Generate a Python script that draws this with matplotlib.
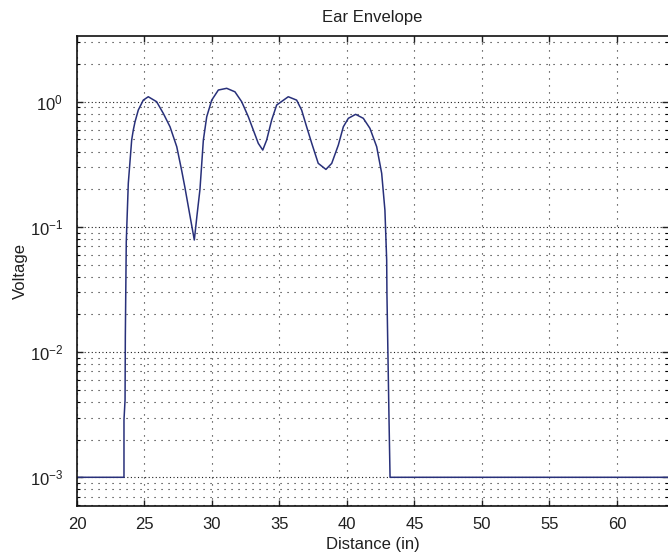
import matplotlib
matplotlib.use("Agg")
import matplotlib.pyplot as plt
from matplotlib.ticker import LogLocator, NullFormatter, LogFormatterSciNotation, MultipleLocator

plt.rcParams['font.family'] = ['Liberation Sans', 'DejaVu Sans']
plt.rcParams['mathtext.fontset'] = 'custom'
plt.rcParams['mathtext.rm'] = 'Liberation Sans'
plt.rcParams['mathtext.it'] = 'Liberation Sans'

title = "Ear Envelope"
xlabel = "Distance (in)"
ylabel = "Voltage"

distance = [20.0, 23.48, 23.48, 23.56, 23.58, 23.65, 23.80, 24.05, 24.17, 24.30,
            24.54, 24.91, 25.28, 25.90, 26.39, 26.89, 27.39, 27.76, 28.0, 28.3, 28.69,
            28.89, 29.11, 29.36, 29.61, 29.98, 30.47, 31.09, 31.70, 32.20, 32.69,
            33.06, 33.43, 33.76, 34.05, 34.42, 34.79, 35.65, 36.27, 36.64, 37.01,
            37.39, 37.87, 38.44, 38.87, 39.36, 39.73, 40.10, 40.64, 41.21, 41.70,
            42.20, 42.57, 42.81, 42.94, 42.96, 43.11, 43.19, 70.0]
voltage = [0.001, 0.001, 0.00287, 0.00414, 0.0133, 0.0762, 0.223, 0.494, 0.594, 0.692,
           0.858, 1.03, 1.096, 1.0, 0.808, 0.631, 0.437, 0.28, 0.205, 0.135, 0.0786,
           0.124, 0.2, 0.494, 0.759, 1.03, 1.24, 1.28, 1.20, 1.0, 0.759,
           0.594, 0.465, 0.411, 0.494, 0.714, 0.941, 1.096, 1.03, 0.858, 0.631,
           0.465, 0.322, 0.288, 0.322, 0.451, 0.631, 0.737, 0.793, 0.737, 0.613,
           0.437, 0.268, 0.136, 0.0544, 0.029, 0.00305, 0.001, 0.001]

xlim = (20, 63.78)
ylim = (5.93e-4, 3.35)

fig = plt.figure(figsize=(6.68, 5.57), dpi=100)
ax = fig.add_axes([77/668, 1 - 505.7/557, 1 - 77/668, (505.7 - 36)/557])

ax.plot(distance, voltage, color='#28307a', lw=1.1)
ax.set_yscale('log')
ax.set_xlim(*xlim)
ax.set_ylim(*ylim)

ax.xaxis.set_major_locator(MultipleLocator(5))
ax.yaxis.set_major_locator(LogLocator(base=10, numticks=20))
ax.yaxis.set_minor_locator(LogLocator(base=10, subs=range(2, 10), numticks=50))
ax.yaxis.set_minor_formatter(NullFormatter())
ax.yaxis.set_major_formatter(LogFormatterSciNotation())

ax.grid(True, which='major', axis='y', color='#202020', lw=0.8, linestyle=(0, (1, 2.2)))
ax.grid(True, which='minor', axis='y', color='#202020', lw=0.8, linestyle=(0, (1, 5.3)))
ax.grid(True, which='major', axis='x', color='#202020', lw=0.8, linestyle=(0, (1, 5.3)))

ax.tick_params(which='major', direction='in', length=4.5, width=1, top=True, right=True,
               labelsize=12, pad=8, colors='#202020')
ax.tick_params(which='minor', direction='in', length=2.5, width=0.8, top=True, right=True)
ax.tick_params(axis='y', which='major', pad=10)
for s in ax.spines.values():
    s.set_linewidth(1.2)
    s.set_color('#111111')
ax.spines['right'].set_visible(False)

ax.set_title(title, fontsize=12, pad=10, color='#202020')
ax.set_xlabel(xlabel, fontsize=12, labelpad=4, color='#202020')
ax.set_ylabel(ylabel, fontsize=12, labelpad=1, color='#202020')

fig.savefig("out.png", dpi=100)
